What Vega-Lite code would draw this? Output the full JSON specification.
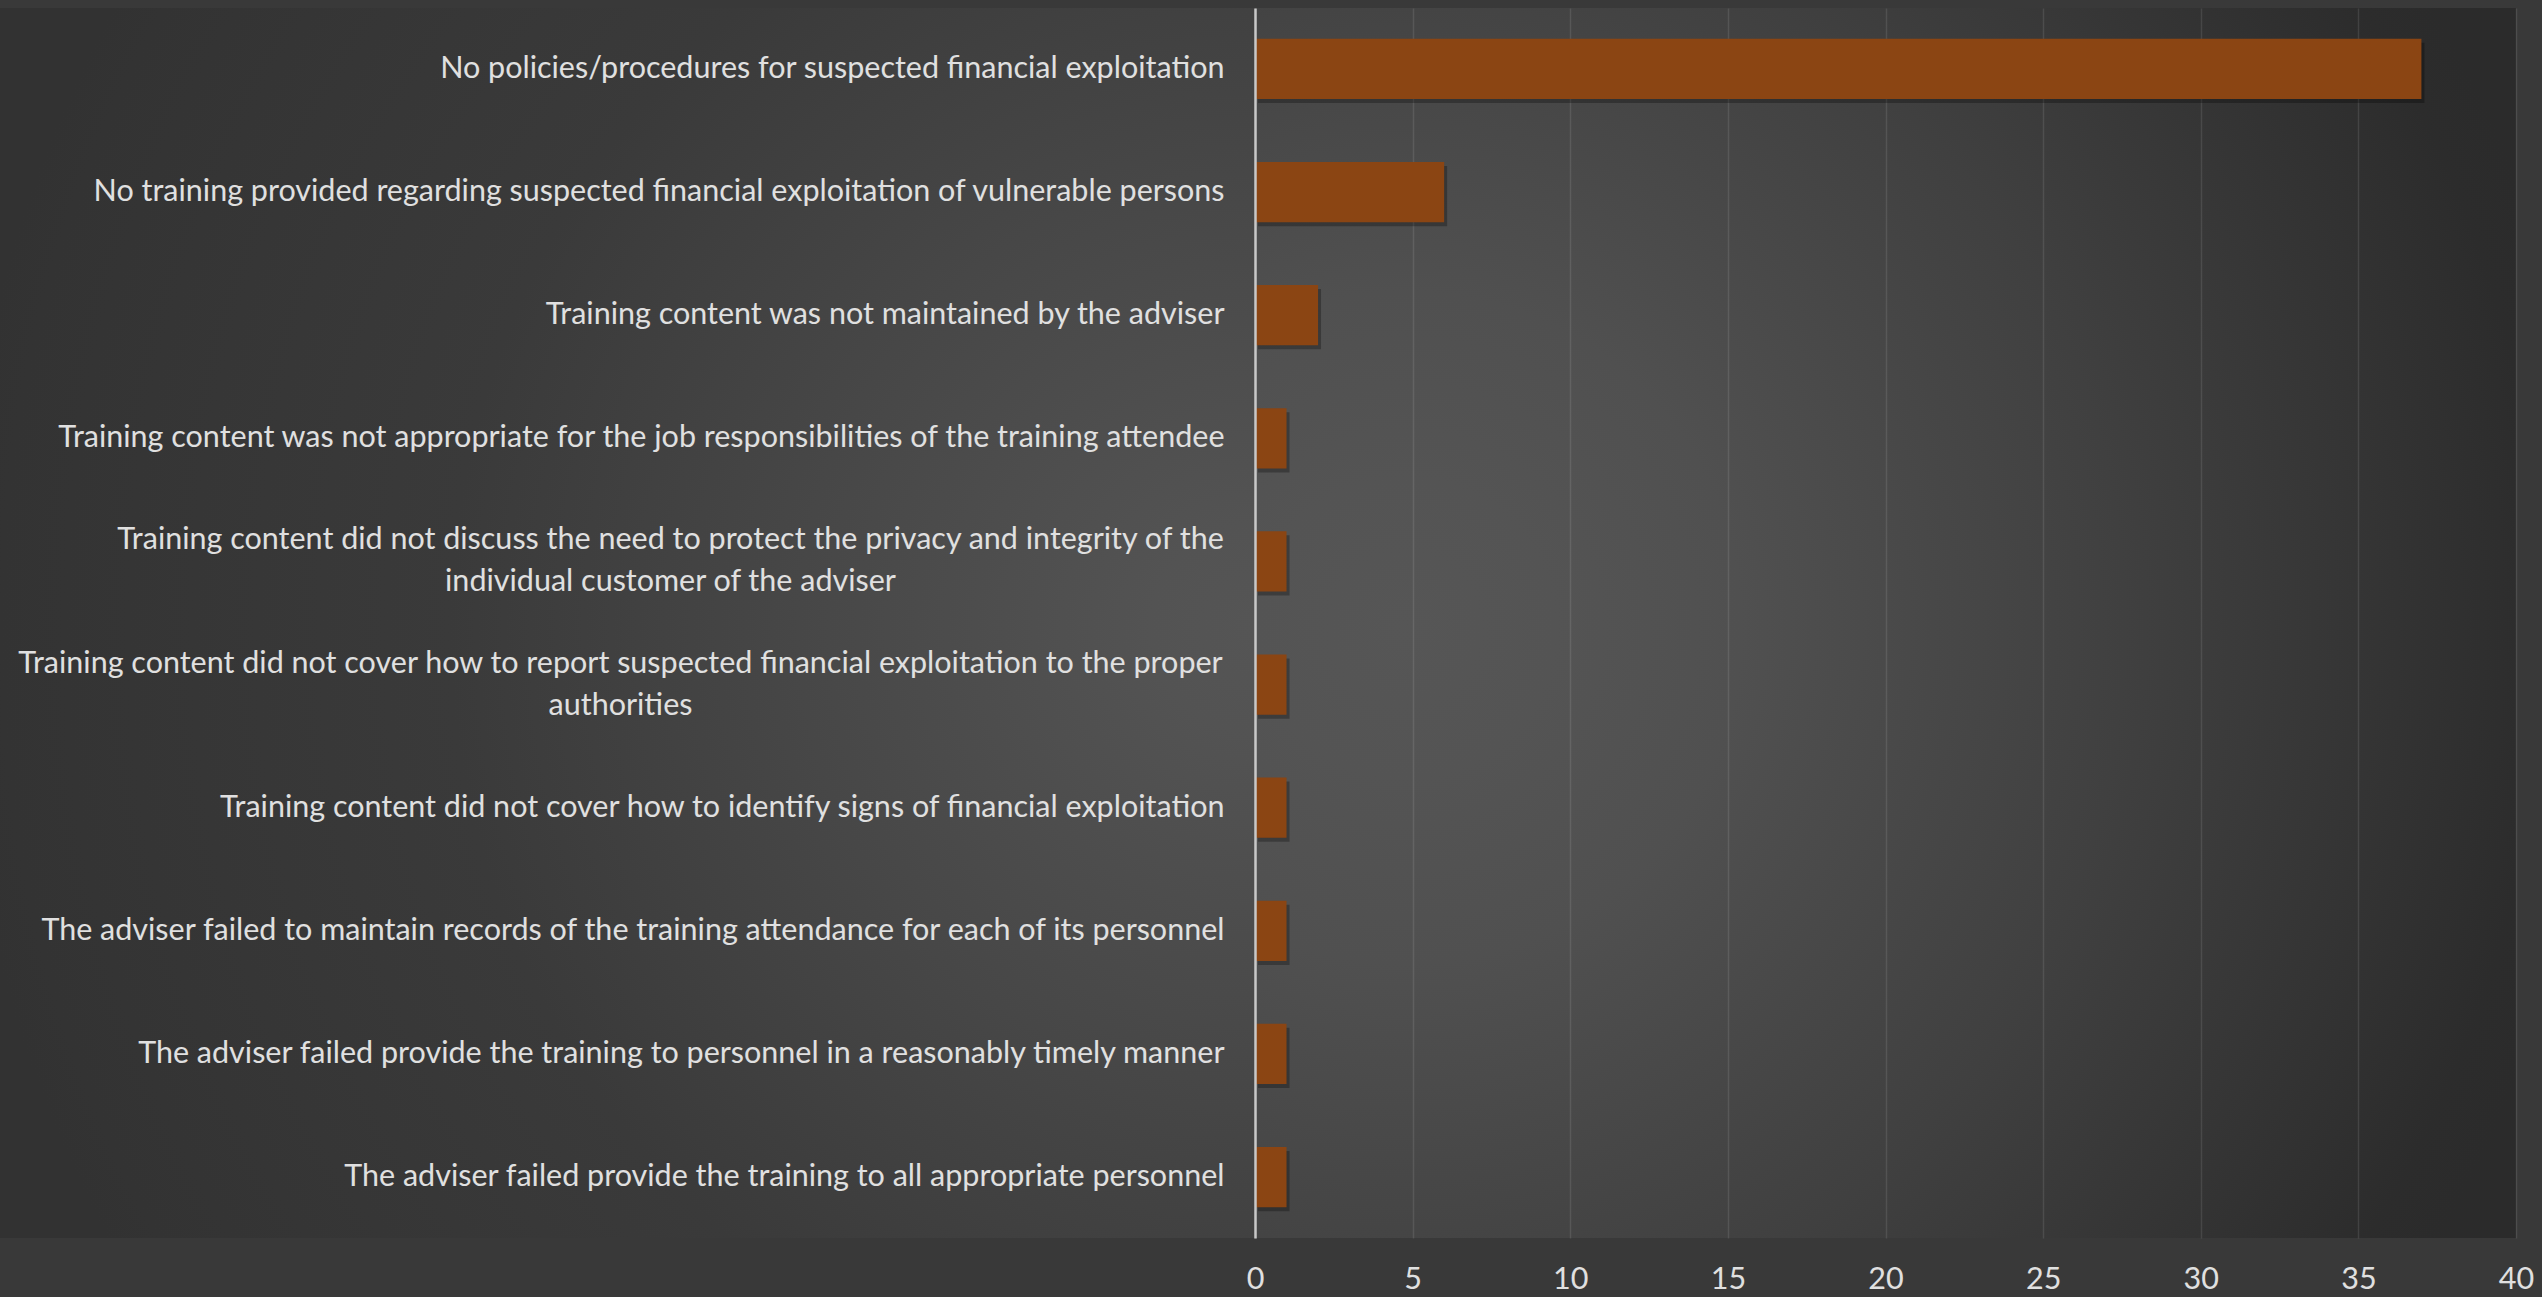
{
  "$schema": "https://vega.github.io/schema/vega-lite/v6.json",
  "width": 1261,
  "height": 1230,
  "autosize": {"type": "none"},
  "padding": {"left": 1255, "top": 8, "right": 26, "bottom": 59},
  "background": "#393939",
  "view": {
    "stroke": null,
    "fill": {
      "gradient": "radial",
      "x1": 0.119, "y1": 0.504, "r1": 0,
      "x2": 0.119, "y2": 0.504, "r2": 0.9516,
      "stops": [
        {"offset": 0, "color": "#565656"},
        {"offset": 0.125, "color": "#545454"},
        {"offset": 0.28, "color": "#505050"},
        {"offset": 0.6, "color": "#404040"},
        {"offset": 0.95, "color": "#2c2c2c"},
        {"offset": 1, "color": "#2b2b2b"}
      ]
    }
  },
  "config": {"font": "Lato"},
  "datasets": {
    "issues": [
      {"issue": "No policies/procedures for suspected financial exploitation", "count": 37},
      {"issue": "No training provided regarding suspected financial exploitation of vulnerable persons", "count": 6},
      {"issue": "Training content was not maintained by the adviser", "count": 2},
      {"issue": "Training content was not appropriate for the job responsibilities of the training attendee", "count": 1},
      {"issue": "Training content did not discuss the need to protect the privacy and integrity of the\nindividual customer of the adviser", "count": 1},
      {"issue": "Training content did not cover how to report suspected financial exploitation to the proper\nauthorities", "count": 1},
      {"issue": "Training content did not cover how to identify signs of financial exploitation", "count": 1},
      {"issue": "The adviser failed to maintain records of the training attendance for each of its personnel", "count": 1},
      {"issue": "The adviser failed provide the training to personnel in a reasonably timely manner", "count": 1},
      {"issue": "The adviser failed provide the training to all appropriate personnel", "count": 1}
    ]
  },
  "layer": [
    {
      "data": {"values": [{}]},
      "mark": {
        "type": "rect",
        "fill": {
          "gradient": "radial",
          "x1": 1, "y1": 0.504, "r1": 0,
          "x2": 1, "y2": 0.504, "r2": 1.0359,
          "stops": [
            {"offset": 0, "color": "#555555"},
            {"offset": 0.08, "color": "#535353"},
            {"offset": 0.35, "color": "#474747"},
            {"offset": 0.62, "color": "#3a3a3a"},
            {"offset": 0.965, "color": "#333333"},
            {"offset": 1, "color": "#323232"}
          ]
        }
      },
      "encoding": {
        "x": {"datum": -39.81, "type": "quantitative", "scale": {"domain": [0, 40], "nice": false}, "axis": {"title": null}},
        "x2": {"datum": 0}
      }
    },
    {
      "data": {"name": "issues"},
      "mark": {"type": "bar", "color": "#000000", "opacity": 0.28, "xOffset": 3, "yOffset": 4},
      "encoding": {
        "y": {"field": "issue", "type": "nominal", "sort": null, "scale": {"paddingInner": 0.51, "paddingOuter": 0.25}},
        "x": {"field": "count", "type": "quantitative", "scale": {"domain": [0, 40], "nice": false}}
      }
    },
    {
      "data": {"name": "issues"},
      "mark": {"type": "bar", "color": "#8B4513"},
      "encoding": {
        "y": {
          "field": "issue",
          "type": "nominal",
          "sort": null,
          "scale": {"paddingInner": 0.51, "paddingOuter": 0.25},
          "axis": {
            "title": null,
            "labelExpr": "split(datum.label, '\\n')",
            "labelAlign": {"condition": {"test": "indexof(datum.label, '\\n') >= 0", "value": "center"}, "value": "right"},
            "labelPadding": {"condition": [
              {"test": "indexof(datum.label, 'discuss') >= 0", "value": 585},
              {"test": "indexof(datum.label, 'proper') >= 0", "value": 635}
            ], "value": 31},
            "labelOffset": {"condition": {"test": "indexof(datum.label, '\\n') >= 0", "value": -21}, "value": 0},
            "labelBaseline": "middle",
            "labelFont": "Lato",
            "labelFontSize": 30.5,
            "labelColor": "#e0e0e0",
            "labelLineHeight": 42,
            "labelLimit": 1300,
            "ticks": false,
            "domainColor": "#c8c8c8",
            "domainWidth": 2.5,
            "grid": false,
            "zindex": 1
          }
        },
        "x": {
          "field": "count",
          "type": "quantitative",
          "scale": {"domain": [0, 40], "nice": false},
          "axis": {
            "title": null,
            "values": [0, 5, 10, 15, 20, 25, 30, 35, 40],
            "grid": true,
            "gridColor": "#ffffff",
            "gridOpacity": 0.1,
            "gridWidth": 1.5,
            "domain": false,
            "ticks": false,
            "labelFont": "Lato",
            "labelFontSize": 30.5,
            "labelColor": "#e0e0e0",
            "labelPadding": 26,
            "labelFlush": false,
            "labelOverlap": false
          }
        }
      }
    }
  ]
}
